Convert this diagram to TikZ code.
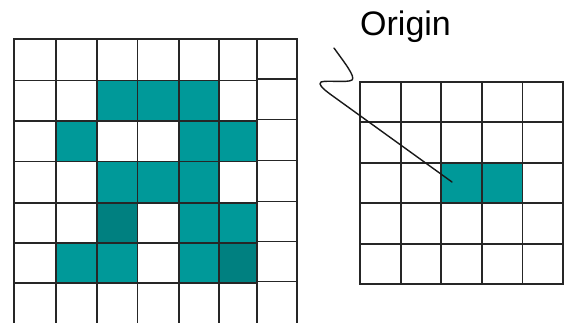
\documentclass[tikz,border=0pt]{standalone}
\usepackage{fontspec}
\setmainfont{Liberation Sans}
\definecolor{tealA}{HTML}{009999}
\definecolor{tealB}{HTML}{008080}
\begin{document}
\begin{tikzpicture}[x=1pt,y=-1pt,
  gridline/.style={line width=1.8pt, draw=black!85, line cap=rect},
  cellA/.style={fill=tealA},
  cellB/.style={fill=tealB},
  pointer/.style={line width=1.4pt, draw=black!90, line cap=round, line join=round}]
\useasboundingbox (0,0) rectangle (568,322);
\fill[white] (0,0) rectangle (568,322);
% ---------- left grid fills ----------
\fill[cellA] (97,80.5) rectangle (219,121);
\fill[cellA] (56,121) rectangle (97,161.5);
\fill[cellA] (179,121) rectangle (257,161.5);
\fill[cellA] (97,161.5) rectangle (219,203);
\fill[cellB] (97,203) rectangle (137.5,243);
\fill[cellA] (179,203) rectangle (257,243);
\fill[cellA] (56,243) rectangle (137.5,283);
\fill[cellA] (179,243) rectangle (219,283);
\fill[cellB] (219,243) rectangle (257,283);
% ---------- left grid lines ----------
\foreach \x in {14,56,97,137.5,179,219,257,297}
  \draw[gridline, line cap=butt] (\x,38.1) -- (\x,323);
\foreach \y in {39,80.5,121,161.5,203,243,283}
  \draw[gridline] (14,\y) -- (257,\y);
\foreach \y in {39,79,119.5,160.5,201.5,241.5,281.5}
  \draw[gridline] (257,\y) -- (297,\y);
% ---------- right grid ----------
\fill[cellA] (441.2,162.7) rectangle (522.4,203.2);
\foreach \x in {360,400.6,441.2,481.8,522.4,563}
  \draw[gridline] (\x,81.7) -- (\x,284.2);
\foreach \y in {81.7,122.2,162.7,203.2,243.7,284.2}
  \draw[gridline] (360,\y) -- (563,\y);
% ---------- label and pointer ----------
\node[anchor=base west, inner sep=0pt, font=\fontsize{34}{34}\selectfont] (origin) at (360,35) {Origin};
\coordinate (lstart) at (334,48);
\coordinate (ltip) at (452,182);
\draw[pointer] (lstart) .. controls (344,62) and (356,77) .. (352,80)
  .. controls (348,83) and (326,80) .. (321,82)
  .. controls (318,84) and (322,88) .. (330,94)
  -- (ltip);
\end{tikzpicture}
\end{document}
